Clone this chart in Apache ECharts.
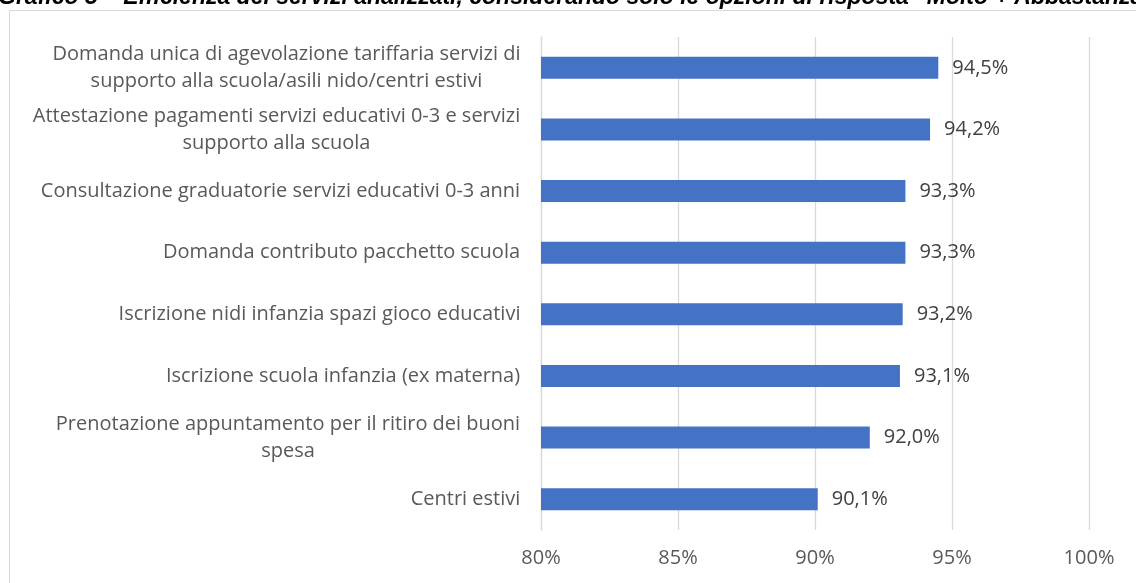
<!DOCTYPE html>
<html>
<head>
<meta charset="utf-8">
<script src="https://cdn.jsdelivr.net/npm/echarts@6/dist/echarts.min.js"></script>
<style>
  html, body { margin: 0; padding: 0; background: #fff; }
  #chart { width: 1136px; height: 583px; }
</style>
</head>
<body>
<div id="chart"></div>
<script>
// categorie (dall'alto verso il basso), a capo come nel grafico originale
var categories = [
    'Domanda unica di agevolazione tariffaria servizi di\nsupporto alla scuola/asili nido/centri estivi',
    'Attestazione pagamenti servizi educativi 0-3 e servizi\nsupporto alla scuola',
    'Consultazione graduatorie servizi educativi 0-3 anni',
    'Domanda contributo pacchetto scuola',
    'Iscrizione nidi infanzia spazi gioco educativi',
    'Iscrizione scuola infanzia (ex materna)',
    'Prenotazione appuntamento per il ritiro dei buoni\nspesa',
    'Centri estivi'
];
var values = [94.5, 94.2, 93.3, 93.3, 93.2, 93.1, 92.0, 90.1];
var titleText = 'Grafico 5 \u2013 Efficienza dei servizi analizzati, considerando solo le opzioni di risposta \u201cMolto + Abbastanza\u201d';

var labelFont = '"Open Sans"';

var ctx = document.createElement('canvas').getContext('2d');
function textWidth(str, size) {
    ctx.font = size + 'px ' + labelFont;
    return ctx.measureText(str).width;
}
// dimensione del font scelta in modo che la riga piu lunga sia larga ~482px
var labelSize = Math.round(100 * 482 / textWidth(categories[2], 100) * 2) / 2;

// larghezza della riga piu lunga di ogni etichetta, per centrare le righe
var rich = {};
categories.forEach(function(c, i) {
    var w = 0;
    c.split('\n').forEach(function(line) {
        w = Math.max(w, textWidth(line, labelSize));
    });
    rich['c' + i] = {
        width: Math.ceil(w) + 1,
        align: 'center',
        fontSize: labelSize,
        fontFamily: labelFont,
        color: '#595959',
        lineHeight: 27
    };
});

function fmt(v, dec) {
    return v.toFixed(dec).replace('.', ',') + '%';
}

var myChart = echarts.init(document.getElementById('chart'));

var option = {
    animation: false,
    textStyle: { fontFamily: labelFont },
    graphic: [
        {
            type: 'rect',
            shape: { x: 9.5, y: 10.5, width: 1300, height: 700 },
            style: { fill: 'none', stroke: '#d9d9d9', lineWidth: 1 },
            silent: true
        },
        {
            type: 'text',
            x: -2,
            y: 9,
            style: {
                text: titleText,
                font: 'italic bold 23px "Liberation Sans"',
                fill: '#000',
                verticalAlign: 'bottom'
            },
            silent: true
        }
    ],
    grid: {
        left: 541,
        right: 47,
        top: 37,
        bottom: 53,
        containLabel: false
    },
    xAxis: {
        type: 'value',
        min: 80,
        max: 100,
        interval: 5,
        axisLine: { show: false },
        axisTick: { show: false },
        splitLine: { lineStyle: { color: '#d9d9d9', width: 1.3 } },
        axisLabel: {
            margin: 18,
            fontSize: labelSize,
            color: '#595959',
            formatter: function(v) { return v + '%'; }
        }
    },
    yAxis: {
        type: 'category',
        inverse: true,
        data: categories,
        axisLine: { show: true, lineStyle: { color: '#d9d9d9', width: 1.3 } },
        axisTick: { show: false },
        axisLabel: {
            margin: 20,
            formatter: function(value, index) {
                return value.split('\n').map(function(line) {
                    return '{c' + index + '|' + line + '}';
                }).join('\n');
            },
            rich: rich
        }
    },
    series: [
        {
            type: 'bar',
            data: values,
            barWidth: 22,
            itemStyle: { color: '#4472c4' },
            label: {
                show: true,
                position: 'right',
                distance: 14,
                fontSize: labelSize,
                color: '#404040',
                formatter: function(p) { return fmt(p.value, 1); }
            }
        }
    ]
};

myChart.setOption(option);
</script>
</body>
</html>
